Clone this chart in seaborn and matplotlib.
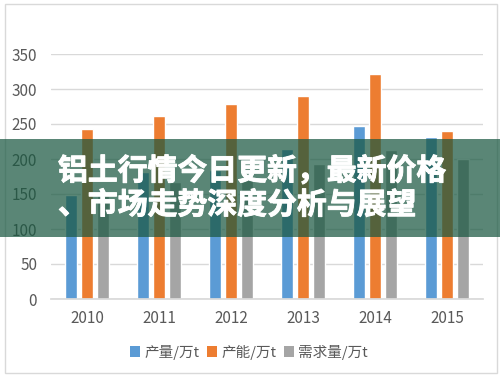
import numpy as np
import pandas as pd
import seaborn as sns
import matplotlib
matplotlib.use("Agg")
import matplotlib.pyplot as plt
import matplotlib.patheffects as pe
from matplotlib.patches import Rectangle, Patch

years = ["2010", "2011", "2012", "2013", "2014", "2015"]
series_names = ["产量/万t", "产能/万t", "需求量/万t"]
output_vals = [148, 182, 185, 214, 247, 232]
capacity_vals = [243, 262, 278, 290, 322, 240]
demand_vals = [148, 167, 175, 193, 213, 200]
colors = ["#5B9BD5", "#ED7D31", "#A5A5A5"]
yticks = [0, 50, 100, 150, 200, 250, 300, 350]
banner_line1 = "铝土行情今日更新，最新价格"
banner_line2 = "、市场走势深度分析与展望"

df = pd.DataFrame({
    "year": years * 3,
    "series": [series_names[0]] * 6 + [series_names[1]] * 6 + [series_names[2]] * 6,
    "value": output_vals + capacity_vals + demand_vals,
})

sns.set_theme(style="white")
plt.rcParams["font.family"] = ["Noto Sans CJK SC", "DejaVu Sans"]

fig = plt.figure(figsize=(5.0, 3.77), dpi=100)
fig.patch.set_facecolor("white")
ax = fig.add_axes([51 / 500, 1 - 299 / 377, (483 - 51) / 500, (299 - 54) / 377])

sns.barplot(data=df, x="year", y="value", hue="series", palette=colors,
            width=0.667, gap=0.22, ax=ax, legend=False, saturation=1)

ax.set_xlim(-0.5, 5.5)
ax.set_ylim(0, 350)
ax.set_yticks(yticks)
ax.set_xlabel("")
ax.set_ylabel("")
ax.yaxis.grid(True, color="#D9D9D9", linewidth=1)
ax.set_axisbelow(True)
for s in ["left", "top", "right"]:
    ax.spines[s].set_visible(False)
ax.spines["bottom"].set_color("#D9D9D9")
ax.tick_params(axis="both", length=0, labelsize=11, colors="#595959")
ax.tick_params(axis="y", pad=10)
ax.tick_params(axis="x", pad=8)

handles = [Patch(facecolor=c, edgecolor="none") for c in colors]
fig.legend(handles, series_names, loc="center", bbox_to_anchor=(0.498, 1 - 352 / 377),
           ncol=3, frameon=False, fontsize=10.5, handlelength=0.7, handleheight=0.7,
           handletextpad=0.3, columnspacing=0.5, labelcolor="#595959")

# chart border
fig.patches.append(Rectangle((4.5 / 500, 1 - 373 / 377), (497 - 4.5) / 500, (373 - 4) / 377,
                             transform=fig.transFigure, facecolor="none",
                             edgecolor="#D9D9D9", linewidth=1, zorder=1))

# banner overlay
fig.patches.append(Rectangle((0, 1 - 237 / 377), 1, (237 - 139) / 377,
                             transform=fig.transFigure, facecolor="#1a5841",
                             alpha=0.72, edgecolor="none", zorder=5))
stroke = [pe.withStroke(linewidth=0.7, foreground="white")]
fig.text(58 / 500, 1 - 171 / 377, banner_line1, color="white", fontsize=21.5,
         fontweight="bold", ha="left", va="center", zorder=6, path_effects=stroke)
fig.text(58 / 500, 1 - 205 / 377, banner_line2, color="white", fontsize=21.5,
         fontweight="bold", ha="left", va="center", zorder=6, path_effects=stroke)

fig.savefig("out.png", dpi=100, facecolor="white")
